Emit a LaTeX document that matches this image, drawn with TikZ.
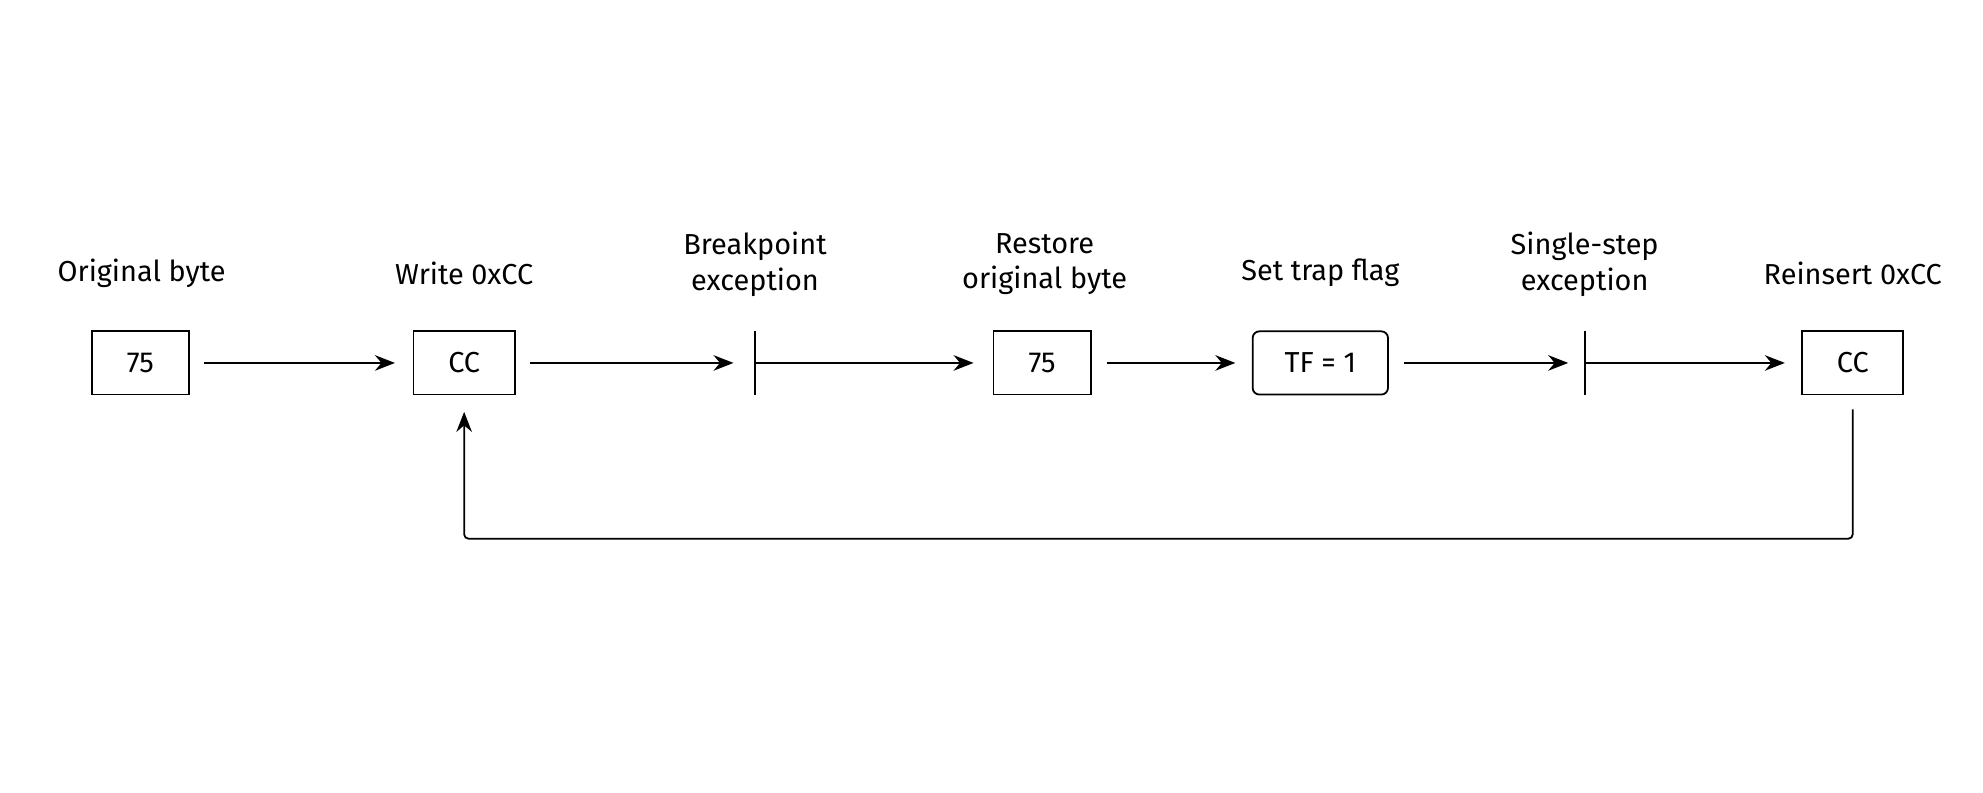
\documentclass[tikz,border=0pt]{standalone}
\usepackage{fontspec}
\setmainfont{Fira Sans}
\usetikzlibrary{arrows.meta}
\tikzset{
	byte/.style={draw,thick,minimum width=1.54cm,minimum height=1cm,font=\fontsize{13}{15}\selectfont},
	lbl/.style={align=center,font=\fontsize{13}{16}\selectfont},
	flow/.style={thick,-{Stealth[length=9pt,width=7pt]}}
}
\begin{document}
\begin{tikzpicture}
	\useasboundingbox (0,0) rectangle (31.36,12.54);
	% cells
	\node[byte] (b1) at (2.22,6.80) {75};
	\node[byte,minimum width=1.6cm] (b2) at (7.34,6.80) {CC};
	\coordinate (t1) at (11.94,6.80);
	\node[byte] (b3) at (16.48,6.80) {75};
	\node[byte,rounded corners=3pt,minimum width=2.14cm] (b4) at (20.88,6.80) {TF = 1};
	\coordinate (t2) at (25.06,6.80);
	\node[byte,minimum width=1.6cm] (b5) at (29.30,6.80) {CC};
	
	% ticks
	\draw[thick] ([yshift=-0.5cm]t1) -- ([yshift=0.5cm]t1);
	\draw[thick] ([yshift=-0.5cm]t2) -- ([yshift=0.5cm]t2);
	
	% labels
	\node[lbl] (l1) at (2.24,8.22) {Original byte};
	\node[lbl] (l2) at (7.34,8.22) {Write 0xCC};
	\node[lbl] (l3) at (11.94,8.36) {Breakpoint\\exception};
	\node[lbl] (l4) at (16.52,8.36) {Restore\\original byte};
	\node[lbl] (l5) at (20.88,8.22) {Set trap flag};
	\node[lbl] (l6) at (25.06,8.36) {Single-step\\exception};
	\node[lbl] (l7) at (29.30,8.22) {Reinsert 0xCC};
	
	% arrows
	\draw[flow] ([xshift=0.22cm]b1.east) -- ([xshift=-0.28cm]b2.west);
	\draw[flow] ([xshift=0.22cm]b2.east) -- ([xshift=-0.34cm]t1);
	\draw[flow] (t1) -- ([xshift=-0.3cm]b3.west);
	\draw[flow] ([xshift=0.24cm]b3.east) -- ([xshift=-0.26cm]b4.west);
	\draw[flow] ([xshift=0.24cm]b4.east) -- ([xshift=-0.26cm]t2);
	\draw[flow] (t2) -- ([xshift=-0.26cm]b5.west);
	\draw[flow,rounded corners=2pt] ([yshift=-0.22cm]b5.south) -- (29.30,4.02) -- (7.34,4.02) -- ([yshift=-0.26cm]b2.south);
\end{tikzpicture}
\end{document}
